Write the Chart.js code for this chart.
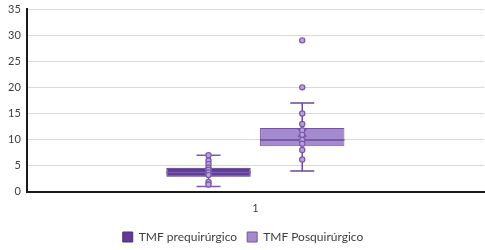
<!DOCTYPE html>
<html>
<head>
<meta charset="utf-8">
<script src="https://cdn.jsdelivr.net/npm/chart.js@4/dist/chart.umd.min.js"></script>
<style>
  html, body { margin: 0; padding: 0; background: #fff; }
  #wrap { width: 485px; height: 250px; }
</style>
</head>
<body>
<div id="wrap"><canvas id="chart"></canvas></div>
<script>
var categories = ['1'];
var seriesNames = ['TMF prequirúrgico', 'TMF Posquirúrgico'];
// box stats per series: [min, q1, median, q3, max]
var preBox = [1, 2.9, 3.7, 4.6, 7];
var postBox = [4, 8.7, 9.9, 12.2, 17];
var preMean = 3.8;
var postMean = 11.3;
var prePoints = [7, 6, 5.3, 4.6, 4.2, 3.7, 3.2, 1.9, 1.4];
var postPoints = [29, 20, 15, 13, 11.8, 10.9, 9.9, 9.2, 8, 6.2];
var yTicks = [0, 5, 10, 15, 20, 25, 30, 35];

var boxes = [preBox, postBox];
var means = [preMean, postMean];
var points = [prePoints, postPoints];
var fills = ['#5e3c93', '#a48bd0'];
var borders = ['#4b2e7c', '#76559f'];
var lineCols = ['#7a5bb0', '#6a4b96'];

// whiskers, median, mean and the dots, placed with the chart's own scales
var boxExtras = {
  id: 'boxExtras',
  afterDatasetsDraw: function (chart) {
    var ctx = chart.ctx;
    var y = chart.scales.y;
    chart.data.datasets.forEach(function (ds, i) {
      var bar = chart.getDatasetMeta(i).data[0];
      var b = boxes[i];
      var cx = bar.x, half = bar.width / 2;
      ctx.save();
      ctx.strokeStyle = lineCols[i];
      ctx.lineWidth = 1.5;
      // median
      ctx.beginPath();
      ctx.moveTo(cx - half, y.getPixelForValue(b[2]));
      ctx.lineTo(cx + half, y.getPixelForValue(b[2]));
      ctx.stroke();
      // whiskers
      ctx.beginPath();
      ctx.moveTo(cx, y.getPixelForValue(b[3]));
      ctx.lineTo(cx, y.getPixelForValue(b[4]));
      ctx.moveTo(cx, y.getPixelForValue(b[1]));
      ctx.lineTo(cx, y.getPixelForValue(b[0]));
      ctx.moveTo(cx - 12, y.getPixelForValue(b[4]));
      ctx.lineTo(cx + 12, y.getPixelForValue(b[4]));
      ctx.moveTo(cx - 12, y.getPixelForValue(b[0]));
      ctx.lineTo(cx + 12, y.getPixelForValue(b[0]));
      ctx.stroke();
      // mean X
      var my = y.getPixelForValue(means[i]);
      ctx.beginPath();
      ctx.moveTo(cx - 4, my - 4); ctx.lineTo(cx + 4, my + 4);
      ctx.moveTo(cx + 4, my - 4); ctx.lineTo(cx - 4, my + 4);
      ctx.stroke();
      // dots
      ctx.lineWidth = 1.2;
      points[i].forEach(function (v) {
        ctx.beginPath();
        ctx.arc(cx, y.getPixelForValue(v), 2.6, 0, Math.PI * 2);
        ctx.fillStyle = '#b8a2dc';
        ctx.fill();
        ctx.strokeStyle = '#7a58a8';
        ctx.stroke();
      });
      ctx.restore();
    });
  }
};

document.addEventListener("DOMContentLoaded", function () {
  var ctx = document.getElementById('chart');
  new Chart(ctx, {
    type: 'bar',
    data: {
      labels: categories,
      datasets: seriesNames.map(function (name, i) {
        return {
          label: name,
          data: [[boxes[i][1], boxes[i][3]]],
          backgroundColor: fills[i],
          borderColor: borders[i],
          borderWidth: 1,
          borderSkipped: false,
          barPercentage: 0.9,
          categoryPercentage: 0.41
        };
      })
    },
    options: {
      responsive: true,
      maintainAspectRatio: false,
      animation: false,
      layout: { padding: { left: 2, top: 0, right: 1, bottom: 0 } },
      plugins: {
        tooltip: { enabled: false },
        legend: {
          position: 'bottom',
          maxHeight: 29,
          labels: {
            boxWidth: 10, boxHeight: 10, padding: 10,
            color: '#404040',
            font: { family: 'Lato', size: 12 }
          }
        }
      },
      scales: {
        x: {
          grid: { display: false, drawTicks: false },
          border: { color: '#1a1a1a', width: 2 },
          ticks: { color: '#404040', font: { family: 'Lato', size: 11 }, padding: 10 },
          afterFit: function (scale) { scale.height -= 4; }
        },
        y: {
          min: 0, max: 35,
          afterBuildTicks: function (axis) {
            axis.ticks = yTicks.map(function (v) { return { value: v }; });
          },
          afterFit: function (scale) { scale.paddingTop = 9; },
          grid: { color: '#d9d9d9', drawTicks: false },
          border: { color: '#1a1a1a', width: 2 },
          ticks: { color: '#404040', font: { family: 'Lato', size: 11 }, padding: 6 }
        }
      }
    },
    plugins: [boxExtras]
  });
});
</script>
</body>
</html>
